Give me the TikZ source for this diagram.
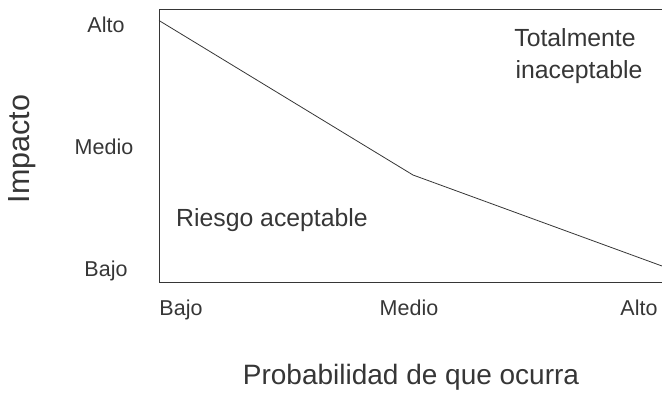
\documentclass[tikz,border=0pt]{standalone}
\usepackage{fontspec}
\setmainfont{Liberation Sans}
\definecolor{ink}{HTML}{363636}

\begin{document}
\begin{tikzpicture}[x=1pt,y=-1pt,color=ink,
  ticklabel/.style={font=\fontsize{21.5}{24}\selectfont,anchor=base,inner sep=0pt},
  zonelabel/.style={font=\fontsize{24.8}{28}\selectfont,anchor=base,inner sep=0pt},
  axistitle/.style={font=\fontsize{28}{32}\selectfont,anchor=base,inner sep=0pt}]

\useasboundingbox (0,0) rectangle (662,392);

\coordinate (TL) at (159,9);
\coordinate (TR) at (663,9);
\coordinate (BL) at (159,282);
\coordinate (BR) at (663,282);

\coordinate (R1) at (159,20.5);
\coordinate (R2) at (413,175);
\coordinate (R3) at (662,266);

% frame
\draw[line width=1pt] (TR) -- (TL) -- (BL) -- (BR);

% limit between the two zones
\draw[line width=0.8pt] (R1) -- (R2) -- (R3);

% impact levels
\node[ticklabel] (yalto) at (106,32) {Alto};
\node[ticklabel] (ymedio) at (104,154) {Medio};
\node[ticklabel] (ybajo) at (106,276) {Bajo};

% probability levels
\node[ticklabel] (xbajo) at (181,315) {Bajo};
\node[ticklabel] (xmedio) at (409,315) {Medio};
\node[ticklabel] (xalto) at (639,315) {Alto};

\node[zonelabel] (riesgo) at (272,226) {Riesgo aceptable};
\node[zonelabel] (total) at (575,46) {Totalmente};
\node[zonelabel] (inacep) at (579,78) {inaceptable};

\node[axistitle,font=\fontsize{30.5}{34}\selectfont,rotate=90] (impacto) at (29,149) {Impacto};
\node[axistitle] (prob) at (411,384) {Probabilidad de que ocurra};

\end{tikzpicture}
\end{document}
